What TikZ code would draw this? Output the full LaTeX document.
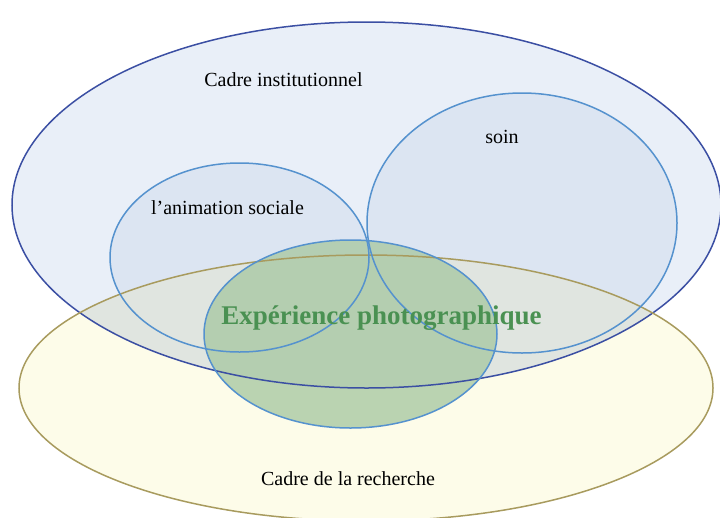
\documentclass[tikz,border=0pt]{standalone}
\usepackage{fontspec}
\setmainfont{Liberation Serif}
\definecolor{instfill}{HTML}{E9EFF8}
\definecolor{instline}{HTML}{3B4FA3}
\definecolor{rechfill}{HTML}{FDFCE9}
\definecolor{rechline}{HTML}{A89B5E}
\definecolor{overfill}{HTML}{E0E5E0}
\definecolor{subfill}{HTML}{DCE5F2}
\definecolor{subline}{HTML}{5592CE}
\definecolor{expfill}{HTML}{AAC9A4}
\definecolor{exptext}{HTML}{4A9152}
\tikzset{
  lbl/.style={anchor=base, inner sep=0pt, font=\fontsize{20}{22}\selectfont},
  explbl/.style={anchor=base, inner sep=0pt, font=\fontsize{27}{30}\selectfont\bfseries, text=exptext},
  outline/.style={line width=1.5pt}
}
\begin{document}
\begin{tikzpicture}[x=1pt,y=-1pt]
\useasboundingbox (0,0) rectangle (720,517);
% fills
\fill[instfill] (366.5,205) ellipse [x radius=354.5, y radius=183];
\fill[subfill] (239.5,257.5) ellipse [x radius=129.5, y radius=94.5];
\fill[subfill] (522,223) ellipse [x radius=155, y radius=130];
\fill[rechfill] (366,388) ellipse [x radius=347, y radius=133];
\begin{scope}
  \clip (366.5,205) ellipse [x radius=354.5, y radius=183];
  \fill[overfill] (366,388) ellipse [x radius=347, y radius=133];
\end{scope}
\fill[expfill, fill opacity=0.8] (350.5,334) ellipse [x radius=146.5, y radius=94];
% outlines
\draw[instline, outline] (366.5,205) ellipse [x radius=354.5, y radius=183];
\draw[rechline, outline] (366,388) ellipse [x radius=347, y radius=133];
\draw[subline, outline] (239.5,257.5) ellipse [x radius=129.5, y radius=94.5];
\draw[subline, outline] (522,223) ellipse [x radius=155, y radius=130];
\draw[subline, outline] (350.5,334) ellipse [x radius=146.5, y radius=94];
% labels
\node[lbl] (inst) at (283.5,86) {Cadre institutionnel};
\node[lbl] (soin) at (502,143) {soin};
\node[lbl] (anim) at (227.5,214) {l’animation sociale};
\node[lbl] (rech) at (348,485) {Cadre de la recherche};
\node[explbl] (exp) at (381.5,324) {Expérience photographique};
\end{tikzpicture}
\end{document}
